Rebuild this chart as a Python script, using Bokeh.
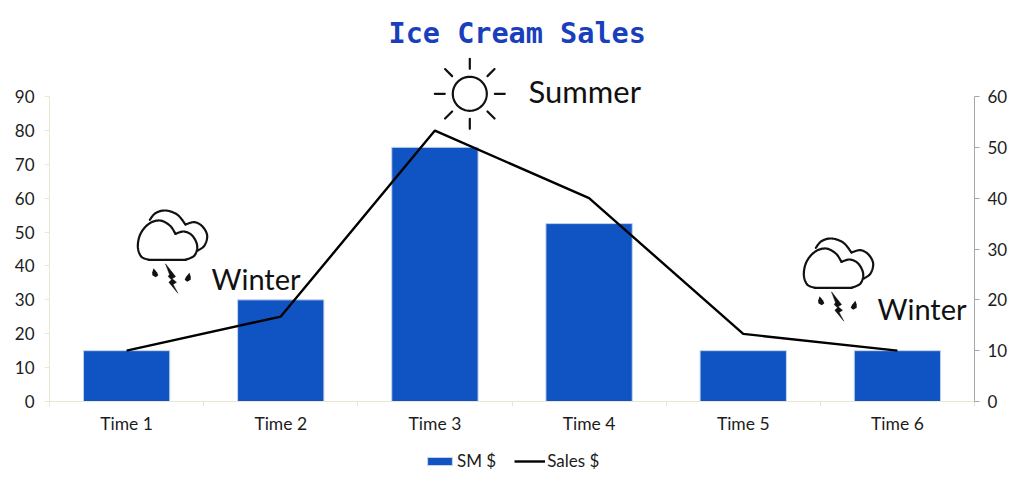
import numpy as np
from bokeh.embed import file_html
from bokeh.layouts import column
from bokeh.models import (ColumnDataSource, FixedTicker, Label, Legend, LegendItem,
                          LinearAxis, Range1d)
from bokeh.plotting import figure
from bokeh.resources import INLINE

categories = ["Time 1", "Time 2", "Time 3", "Time 4", "Time 5", "Time 6"]
sm_values = [15, 30, 75, 52.5, 15, 15]
sales_values = [10, 16.7, 53.3, 40, 13.3, 10]
left_ticks = [0, 10, 20, 30, 40, 50, 60, 70, 80, 90]
right_ticks = [0, 10, 20, 30, 40, 50, 60]
series_names = ["SM $", "Sales $"]

FONT = "Lato"
INK = "#1c1c1c"
BLUE = "#1054c4"
TAN = "#e9e6d3"
GREY = "#a6a6a6"

# page-pixel geometry of the plot
L, R, T, Y0, Y90 = 49, 974, 50, 401, 96
TOP_H = 438
scale = (Y0 - T) / (Y0 - Y90)

positions = [i + 0.5 for i in range(len(categories))]
source = ColumnDataSource(dict(x=positions, sm=sm_values, sales=sales_values))

p = figure(width=1024, height=TOP_H, output_backend="svg", toolbar_location=None,
           x_range=Range1d(0, len(categories)), y_range=Range1d(0, 90 * scale),
           x_axis_location=None, y_axis_location=None,
           min_border_left=L, min_border_right=1024 - R,
           min_border_top=T, min_border_bottom=TOP_H - Y0,
           frame_width=R - L, frame_height=Y0 - T)
p.grid.visible = False
p.outline_line_color = None
p.background_fill_color = "white"

p.extra_y_ranges["sales"] = Range1d(0, 60 * scale)
p.extra_x_ranges["page"] = Range1d(L, R)
p.extra_y_ranges["page"] = Range1d(Y0, T)

p.title.text = "Ice Cream Sales"
p.title.align = "left"
p.title.offset = 339
p.title.text_color = "#1a3fbd"
p.title.text_font = "DejaVu Sans Mono"
p.title.text_font_style = "bold"
p.title.text_font_size = "28.5px"
p.title.standoff = 2

bottom = LinearAxis(ticker=FixedTicker(ticks=positions, minor_ticks=list(range(len(categories) + 1))),
                    major_label_overrides=dict(zip(positions, categories)))
bottom.axis_line_color = TAN
bottom.major_tick_line_color = None
bottom.minor_tick_line_color = TAN
bottom.minor_tick_out = 5
bottom.minor_tick_in = 0
bottom.major_label_standoff = 5
bottom.major_label_text_font = FONT
bottom.major_label_text_font_size = "17.5px"
bottom.major_label_text_color = INK
p.add_layout(bottom, "below")

left = LinearAxis(ticker=FixedTicker(ticks=left_ticks), bounds=(0, 90))
left.axis_line_color = TAN
left.major_tick_line_color = TAN
left.major_tick_out = 5
left.major_tick_in = 0
left.minor_tick_line_color = None
left.major_label_standoff = 10
left.major_label_text_font = FONT
left.major_label_text_font_size = "17px"
left.major_label_text_color = INK
p.add_layout(left, "left")

right = LinearAxis(y_range_name="sales", ticker=FixedTicker(ticks=right_ticks), bounds=(0, 60))
right.axis_line_color = GREY
right.major_tick_line_color = GREY
right.major_tick_out = 5
right.major_tick_in = 0
right.minor_tick_line_color = None
right.major_label_standoff = 8
right.major_label_text_font = FONT
right.major_label_text_font_size = "17px"
right.major_label_text_color = INK
p.add_layout(right, "right")

bar_style = dict(fill_color=BLUE, line_color="#c5d3ea", line_width=1)
line_style = dict(line_color="black", line_width=2.4)
p.vbar(x="x", top="sm", width=0.56, source=source, **bar_style)
p.line(x="x", y="sales", source=source, y_range_name="sales", **line_style)


def smooth(pts, n=10):
    pts = np.array(pts, dtype=float)
    q = np.vstack([pts[0], pts, pts[-1]])
    out = []
    for i in range(1, len(q) - 2):
        for t in np.linspace(0, 1, n, endpoint=False):
            out.append(0.5 * (2 * q[i] + (q[i + 1] - q[i - 1]) * t
                              + (2 * q[i - 1] - 5 * q[i] + 4 * q[i + 1] - q[i + 2]) * t ** 2
                              + (3 * q[i] - q[i - 1] - 3 * q[i + 1] + q[i + 2]) * t ** 3))
    out.append(pts[-1])
    return np.array(out)


def stroke(xs, ys, width=2.2):
    p.line(xs, ys, x_range_name="page", y_range_name="page", line_color="#111111",
           line_width=width, line_join="round", line_cap="round")


# outlines as separate lobes so that the joints stay sharp
LOBES = [
    [(85, 178), (62, 168), (52, 138), (60, 100), (85, 70), (118, 60), (148, 75), (165, 100)],
    [(165, 100), (190, 93), (215, 105), (230, 135), (222, 165), (195, 178)],
    [(88, 58), (105, 38), (135, 30), (170, 42), (195, 72)],
    [(195, 72), (222, 65), (246, 78), (260, 105), (252, 135), (232, 150)],
]
BASE = [(85, 178), (195, 178)]
BOLT = [(135, 190), (165, 228), (155, 235), (168, 245), (158, 252), (172, 278), (145, 245),
        (153, 238), (143, 228), (147, 222)]
DROP = [(0, -15), (7, -3), (9, 6), (0, 12), (-9, 6), (-7, -3)]


def storm(ox, oy):
    to_x = lambda a: ox + np.asarray(a) / 3
    to_y = lambda a: oy + np.asarray(a) / 3
    for lobe in LOBES:
        s = smooth(lobe)
        stroke(to_x(s[:, 0]), to_y(s[:, 1]))
    b = np.array(BASE, dtype=float)
    stroke(to_x(b[:, 0]), to_y(b[:, 1]))
    bolt = np.array(BOLT, dtype=float)
    p.patch(to_x(bolt[:, 0]), to_y(bolt[:, 1]), x_range_name="page", y_range_name="page",
            fill_color="#111111", line_color="#111111", line_width=0.5)
    for cx, cy, tilt in [(103, 218, -1), (203, 232, 1)]:
        d = np.array(DROP, dtype=float)
        p.patch(to_x(cx + d[:, 0] + tilt * d[:, 1] * -0.25), to_y(cy + d[:, 1]),
                x_range_name="page", y_range_name="page", fill_color="#111111", line_color=None)


def sun(cx, cy):
    th = np.linspace(0, 2 * np.pi, 80)
    stroke(cx + 17 * np.cos(th), cy + 17 * np.sin(th))
    for a in np.arange(8) * np.pi / 4:
        stroke(cx + np.array([25, 35]) * np.cos(a), cy + np.array([25, 35]) * np.sin(a))


storm(120, 200)
storm(786, 228)
sun(469.3, 93.3)

for text, x, y, size in [("Winter", 211, 278, "29px"), ("Summer", 528, 90, "31px"), ("Winter", 877, 308, "29px")]:
    p.add_layout(Label(x=x, y=y, text=text, x_range_name="page", y_range_name="page",
                       text_font=FONT, text_font_size=size, text_color="#111111",
                       text_baseline="alphabetic"))

# legend strip under the chart: an own small figure, so the legend stays inside a frame.
# Its two key renderers are degenerate and sit outside the strip's ranges, only the legend entries show.
key = figure(width=1024, height=489 - TOP_H, output_backend="svg", toolbar_location=None,
             x_range=Range1d(0, 1), y_range=Range1d(0, 1), x_axis_location=None, y_axis_location=None,
             min_border_left=0, min_border_right=0, min_border_top=0, min_border_bottom=0)
key.grid.visible = False
key.outline_line_color = None
key_bar = key.vbar(x=[-10], top=[-10], bottom=[-10], width=0.1, **bar_style)
key_line = key.line(x=[-10, -9], y=[-10, -10], **line_style)
legend = Legend(items=[LegendItem(label=series_names[0], renderers=[key_bar]),
                       LegendItem(label=series_names[1], renderers=[key_line])],
                orientation="horizontal", location=(375, 18), border_line_color=None,
                background_fill_alpha=0, glyph_width=31, glyph_height=10, label_standoff=2,
                spacing=18, padding=4, label_text_font=FONT, label_text_font_size="17px",
                label_text_color=INK, margin=0)
key.add_layout(legend, "center")

page = column(p, key, spacing=0)
open("out.html", "w").write(file_html(page, INLINE))
